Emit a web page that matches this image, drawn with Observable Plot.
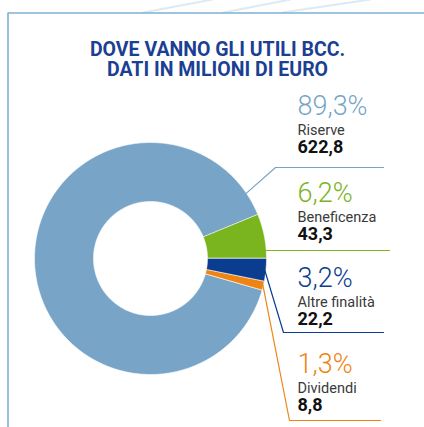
<!DOCTYPE html>
<html>
<head>
<meta charset="utf-8">
<script src="https://cdn.jsdelivr.net/npm/d3@7"></script>
<script src="https://cdn.jsdelivr.net/npm/@observablehq/plot@0.6"></script>
<style>
  html, body { margin: 0; padding: 0; background: #fff; }
  #chart svg { display: block; }
</style>
</head>
<body>
<div id="chart"></div>
<script>
// ---- data ----
const categories = ["Beneficenza", "Altre finalità", "Dividendi", "Riserve"];
const values = [43.3, 22.2, 8.8, 622.8];
const percentLabels = ["6,2%", "3,2%", "1,3%", "89,3%"];
const valueLabels = ["43,3", "22,2", "8,8", "622,8"];
const colors = ["#7ab41f", "#0a3d8f", "#f08413", "#78a5c7"];
const titleLines = ["DOVE VANNO GLI UTILI BCC.", "DATI IN MILIONI DI EURO"];

// ---- layout ----
const W = 424, H = 427;
const cx = 150, cy = 258, rOuter = 116, rInner = 57;
const total = d3.sum(values);
const startAngle = Math.PI / 2 - 2 * Math.PI * values[0] / total;
const pie = d3.pie().sort(null).startAngle(startAngle).endAngle(startAngle + 2 * Math.PI);
const arcs = pie(values);

const pt = (a, r) => [cx + r * Math.sin(a), cy - r * Math.cos(a)];
const slicePts = [];
arcs.forEach((d, i) => {
  const n = Math.max(4, Math.ceil((d.endAngle - d.startAngle) / 0.01));
  for (let k = 0; k <= n; k++) {
    const a = d.startAngle + (d.endAngle - d.startAngle) * k / n;
    const [x, y] = pt(a, rOuter);
    slicePts.push({cat: categories[i], x, y});
  }
  for (let k = n; k >= 0; k--) {
    const a = d.startAngle + (d.endAngle - d.startAngle) * k / n;
    const [x, y] = pt(a, rInner);
    slicePts.push({cat: categories[i], x, y});
  }
});

// label blocks: baseline of percent, leader path
const labelX = 297;
const blocks = [
  {i: 3, y: 114, leaderAngle: 55.8, elbow: [275, 167], end: 383},
  {i: 0, y: 201, leaderAngle: 86, elbow: null, end: 389},
  {i: 1, y: 286, leaderAngle: 96, elbow: [283, 332], end: 383},
  {i: 2, y: 372, leaderAngle: 102.8, elbow: [289, 420], end: 380}
];
const leaders = [];
blocks.forEach((b, j) => {
  const a = b.leaderAngle * Math.PI / 180;
  const p0 = pt(a, rOuter - 1);
  const pts = [p0];
  if (b.elbow) { pts.push(b.elbow); pts.push([b.end, b.elbow[1]]); }
  else { pts.push([b.end, p0[1]]); }
  pts.forEach(([x, y]) => leaders.push({k: j, cat: categories[b.i], x, y}));
});
const pctText = blocks.map(b => ({x: labelX, y: b.y, t: percentLabels[b.i], cat: categories[b.i]}));
const catText = blocks.map(b => ({x: labelX, y: b.y + 20, t: categories[b.i]}));
const valText = blocks.map(b => ({x: labelX, y: b.y + 38.5, t: valueLabels[b.i]}));

const frame = [{x: 7.5, y: H}, {x: 7.5, y: 12.5}, {x: W, y: 12.5}];
const deco = [
  {k: 0, x: 143, y: 12}, {k: 0, x: 212, y: -1},
  {k: 1, x: 223, y: 12}, {k: 1, x: 290, y: -1},
  {k: 2, x: 282, y: 12}, {k: 2, x: 370, y: -1}
];

const chart = Plot.plot({
  width: W, height: H,
  margin: 0,
  style: {fontFamily: "Roboto, sans-serif", background: "#fff"},
  x: {domain: [0, W], range: [0, W], axis: null},
  y: {domain: [0, H], range: [0, H], axis: null},
  color: {domain: categories, range: colors},
  marks: [
    Plot.line(deco, {x: "x", y: "y", z: "k", stroke: "#9cc2dc", strokeWidth: 2, strokeOpacity: 0.35}),
    Plot.line(frame, {x: "x", y: "y", stroke: "#7fb0d2", strokeWidth: 1.6}),
    Plot.line(slicePts, {x: "x", y: "y", z: "cat", fill: "cat", stroke: "#fff", strokeWidth: 0.6, curve: "linear-closed"}),
    Plot.line(leaders, {x: "x", y: "y", z: "k", stroke: "cat", strokeWidth: 1.2}),
    Plot.text(titleLines, {x: W / 2 + 5, y: (d, i) => 55 + i * 20, text: d => d, fontSize: 19.5, fontWeight: 700, fill: "#1b3f92", textAnchor: "middle", lineAnchor: "bottom", letterSpacing: "0.45px"}),
    Plot.text(pctText, {x: "x", y: "y", text: "t", fill: "cat", fontSize: 27, fontWeight: 300, textAnchor: "start", lineAnchor: "bottom", letterSpacing: "1.2px"}),
    Plot.text(catText, {x: "x", y: "y", text: "t", fill: "#3a3a3a", fontSize: 14.5, textAnchor: "start", lineAnchor: "bottom", letterSpacing: "0.15px"}),
    Plot.text(valText, {x: "x", y: "y", text: "t", fill: "#111", fontSize: 18, fontWeight: 700, textAnchor: "start", lineAnchor: "bottom", letterSpacing: "0.7px"})
  ]
});
document.getElementById("chart").appendChild(chart);
</script>
</body>
</html>
